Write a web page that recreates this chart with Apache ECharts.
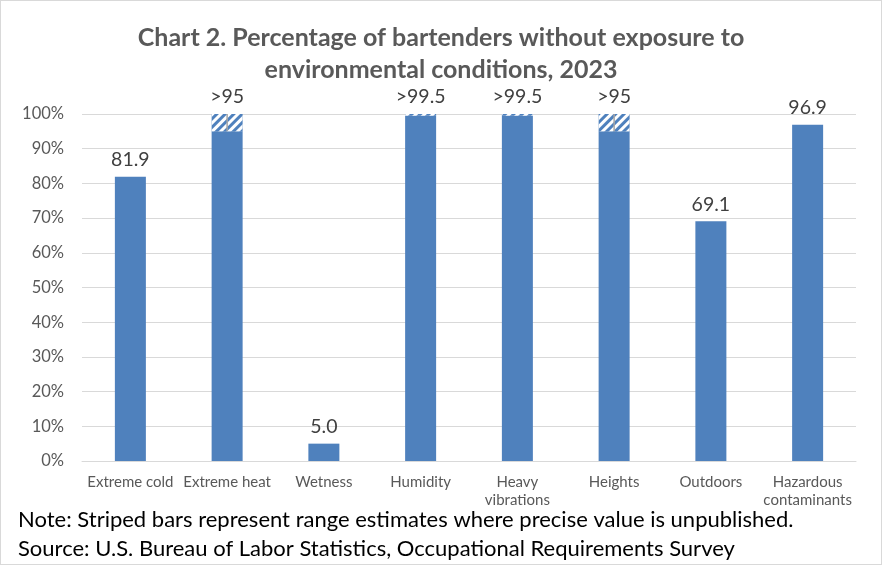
<!DOCTYPE html>
<html><head><meta charset="utf-8">
<script src="https://cdn.jsdelivr.net/npm/echarts@6/dist/echarts.min.js"></script>
<style>html,body{margin:0;padding:0;background:#fff}#c{width:880px;height:563px;border:1px solid #d9d9d9}</style>
</head><body><div id="c"></div>
<script>
const categories = ['Extreme cold','Extreme heat','Wetness','Humidity','Heavy\nvibrations','Heights','Outdoors','Hazardous\ncontaminants'];
const baseValues = [81.9, 95, 5.0, 99.5, 99.5, 95, 69.1, 96.9];
const rangeValues = [0, 5, 0, 0.5, 0.5, 5, 0, 0];
const labelTexts = ['81.9','>95','5.0','>99.5','>99.5','>95','69.1','96.9'];
const yTicks = [0,10,20,30,40,50,60,70,80,90,100];

const chart = echarts.init(document.getElementById('c'));
const font = 'Lato, "Open Sans", sans-serif';
chart.setOption({
  animation:false,
  title:{text:'Chart 2. Percentage of bartenders without exposure to\nenvironmental conditions, 2023',left:'center',top:16,
    textStyle:{fontFamily:font,fontWeight:'bold',fontSize:25,color:'#595959',lineHeight:32}},
  graphic:[
    {type:'text',left:17,top:508,style:{text:'Note: Striped bars represent range estimates where precise value is unpublished.',font:'22px '+font,fill:'#000'}},
    {type:'text',left:17,top:537,style:{text:'Source: U.S. Bureau of Labor Statistics, Occupational Requirements Survey',font:'22px '+font,fill:'#000'}}
  ],
  grid:{left:81,right:25,top:113,bottom:103},
  xAxis:{type:'category',data:categories,axisTick:{show:false},
    axisLine:{lineStyle:{color:'#d9d9d9'}},
    axisLabel:{color:'#595959',fontFamily:font,fontSize:15,margin:12,lineHeight:18,interval:0}},
  yAxis:{type:'value',min:0,max:100,interval:10,
    axisLabel:{formatter:v=>v+'%',color:'#595959',fontFamily:font,fontSize:16.5,margin:18},
    splitLine:{lineStyle:{color:'#d9d9d9'}},axisLine:{show:false},axisTick:{show:false}},
  series:[
    {type:'bar',stack:'a',data:baseValues,barWidth:31,itemStyle:{color:'#4f81bd'}},
    {type:'bar',stack:'a',data:rangeValues,barWidth:31,
      itemStyle:{color:'#4f81bd',decal:{symbol:'rect',color:'#ffffff',dashArrayX:[1,0],dashArrayY:[3,3],rotation:-Math.PI/4,symbolSize:1}},
      label:{show:true,position:'top',distance:7,color:'#404040',fontFamily:font,fontSize:19.5,
        formatter:p=>labelTexts[p.dataIndex]}},
    {type:'custom',data:categories.map((c,i)=>[i,baseValues[i],rangeValues[i]]),z:5,
      renderItem:(params,api)=>{
        const r=api.value(2); if(r<5) return null;
        const p0=api.coord([api.value(0),api.value(1)]);
        const p1=api.coord([api.value(0),api.value(1)+r]);
        return {type:'line',shape:{x1:p0[0],y1:p0[1],x2:p1[0],y2:p1[1]},style:{stroke:'#a6a6a6',lineWidth:1.5}};
      }}
  ]
});
</script></body></html>
